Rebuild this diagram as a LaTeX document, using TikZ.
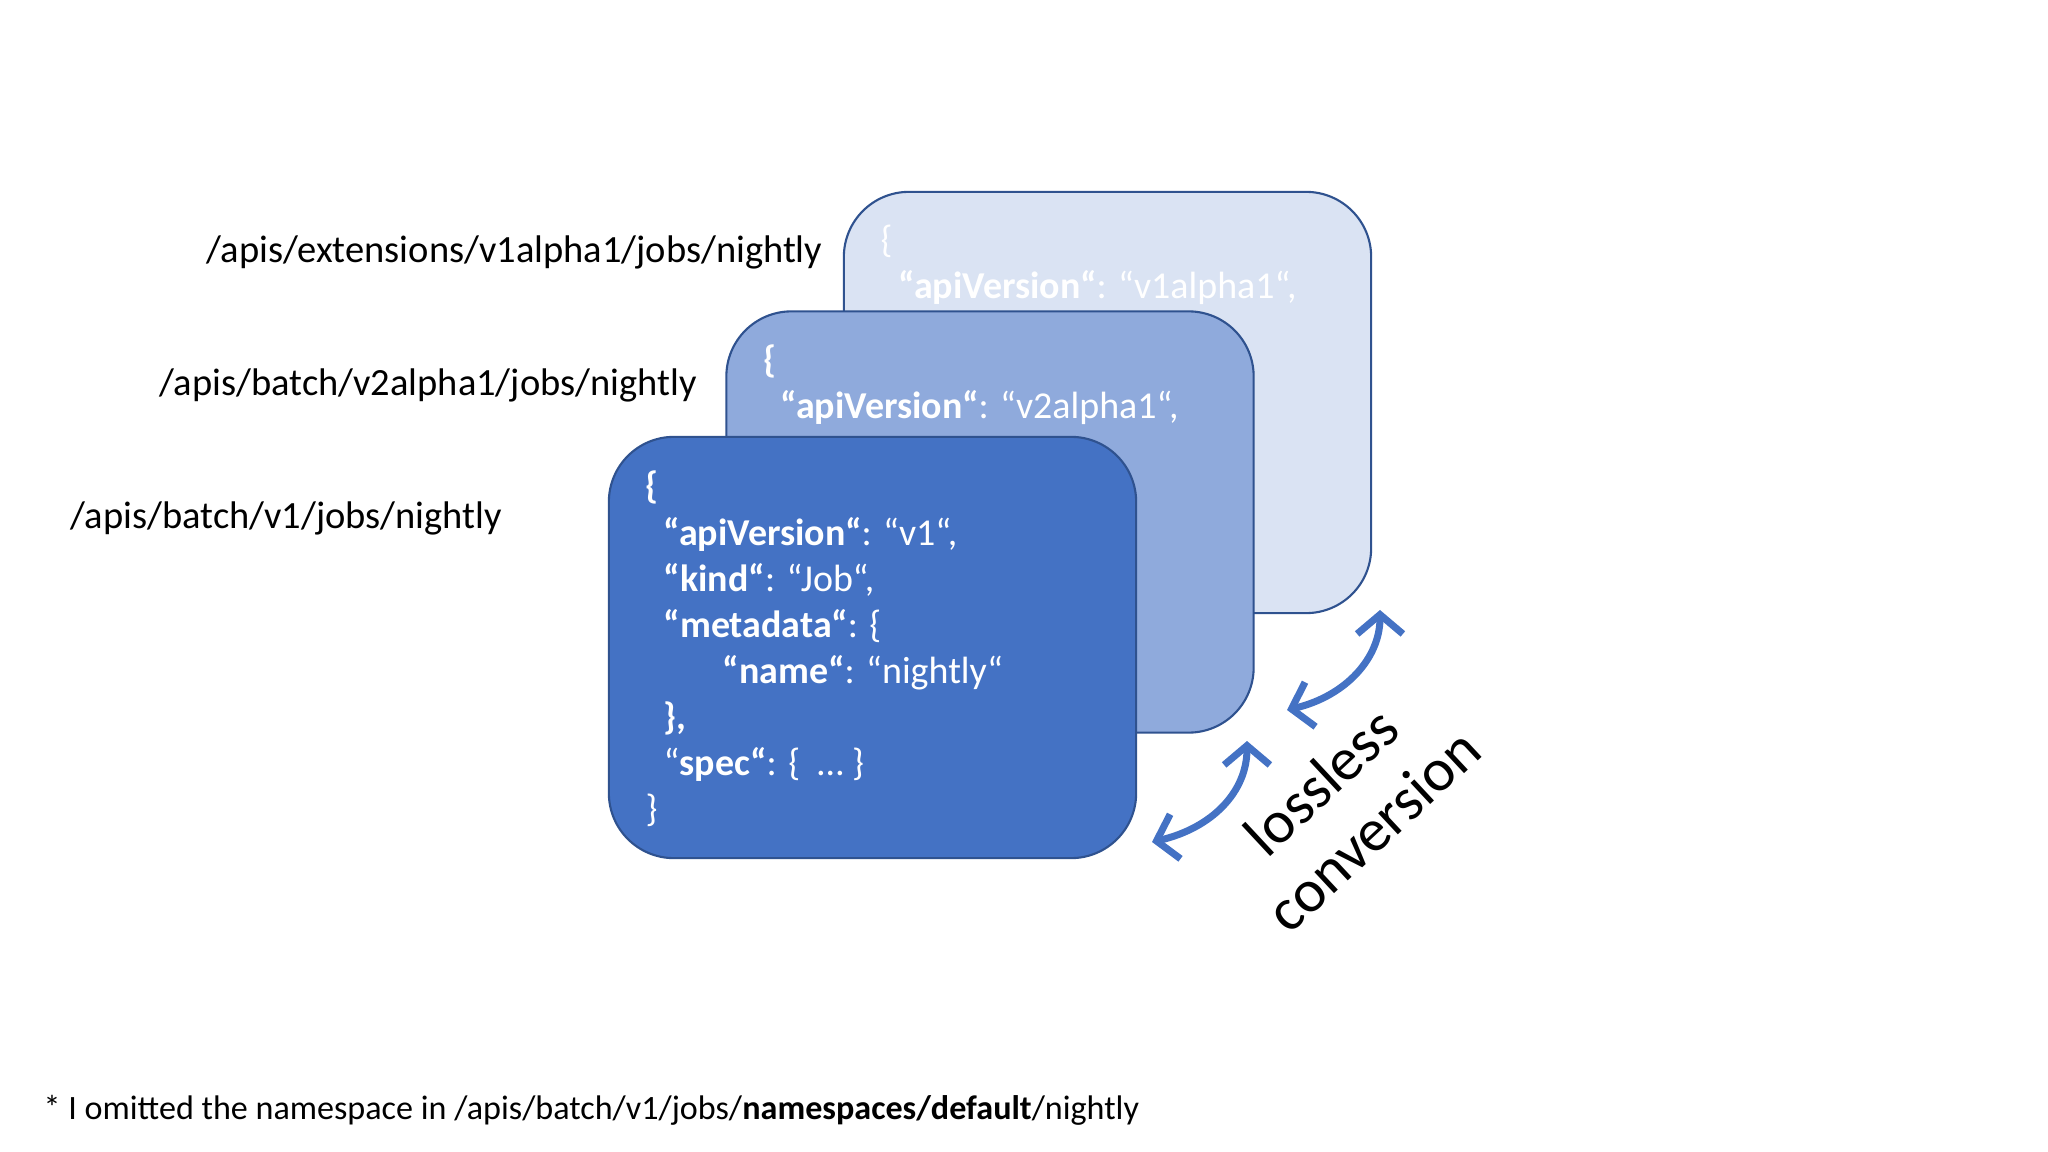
\documentclass[tikz,border=0pt]{standalone}
\usepackage{fontspec}
\setmainfont{Carlito}
\usetikzlibrary{arrows.meta}
\definecolor{frontc}{HTML}{4472C4}
\definecolor{midc}{HTML}{8FAADC}
\definecolor{backc}{HTML}{DAE3F3}
\definecolor{edgec}{HTML}{2F528F}
\begin{document}
\begin{tikzpicture}[x=0.01cm,y=-0.01cm,
  card/.style={draw=edgec, line width=0.6pt, rounded corners=6.5mm, minimum width=5.27cm, minimum height=4.21cm, inner sep=0pt},
  lbl/.style={anchor=base west, inner sep=0pt, font=\fontsize{10.95}{13}\selectfont},
  json/.style={anchor=base west, inner sep=0pt, text=white, font=\fontsize{10.8}{13}\selectfont},
  conv/.style={draw=frontc, line width=2pt, {Straight Barb[length=5.5pt,width=13pt]}-{Straight Barb[length=5.5pt,width=13pt]}},
  big/.style={rotate=43, inner sep=0pt, font=\fontsize{17.2}{20}\selectfont},
]
\useasboundingbox (0,0) rectangle (2048,1152);
% cards
\node[card, fill=backc] (back) at (1107.5,402.5) {};
\node[json] (b1) at (880,253) {\{};
\node[json] (b2) at (898,299) {\textbf{“apiVersion“}: “v1alpha1“,};
\node[card, fill=midc] (mid) at (990,522) {};
\node[json] (m1) at (763,373) {\textbf{\{}};
\node[json] (m2) at (780,419) {\textbf{“apiVersion“}: “v2alpha1“,};
\node[card, fill=frontc] (front) at (872.5,647.5) {};
\node[json] (f1) at (645,499) {\textbf{\{}};
\node[json] (f2) at (663,545) {\textbf{“apiVersion“}: “v1“,};
\node[json] (f3) at (663,591) {\textbf{“kind“}: “Job“,};
\node[json] (f4) at (663,637) {\textbf{“metadata“}: \{};
\node[json] (f5) at (722,683) {\textbf{“name“}: “nightly“};
\node[json] (f6) at (663,729) {\textbf{\},}};
\node[json] (f7) at (663,775) {“\textbf{spec“}: \{\ \ …\ \}};
\node[json] (f8) at (645,821) {\}};
% labels
\node[lbl] (l1) at (206,263) {/apis/extensions/v1alpha1/jobs/nightly};
\node[lbl] (l2) at (159,396) {/apis/batch/v2alpha1/jobs/nightly};
\node[lbl] (l3) at (70,529) {/apis/batch/v1/jobs/nightly};
% conversion arrows
\coordinate (a1s) at (1152,842);
\coordinate (a1e) at (1247,741);
\coordinate (a2s) at (1287,710);
\coordinate (a2e) at (1380,610);
\draw[conv] (a1s) .. controls (1212,828) and (1247,792) .. (a1e);
\draw[conv] (a2s) .. controls (1346,696) and (1380,658) .. (a2e);
\node[big] (loss) at (1321,781) {lossless};
\node[big] (conv) at (1373,830) {conversion};
% footnote
\node[lbl, font=\fontsize{9.7}{12}\selectfont] (note) at (43,1119) {* I omitted the namespace in /apis/batch/v1/jobs/\textbf{namespaces/default}/nightly};
\end{tikzpicture}
\end{document}
